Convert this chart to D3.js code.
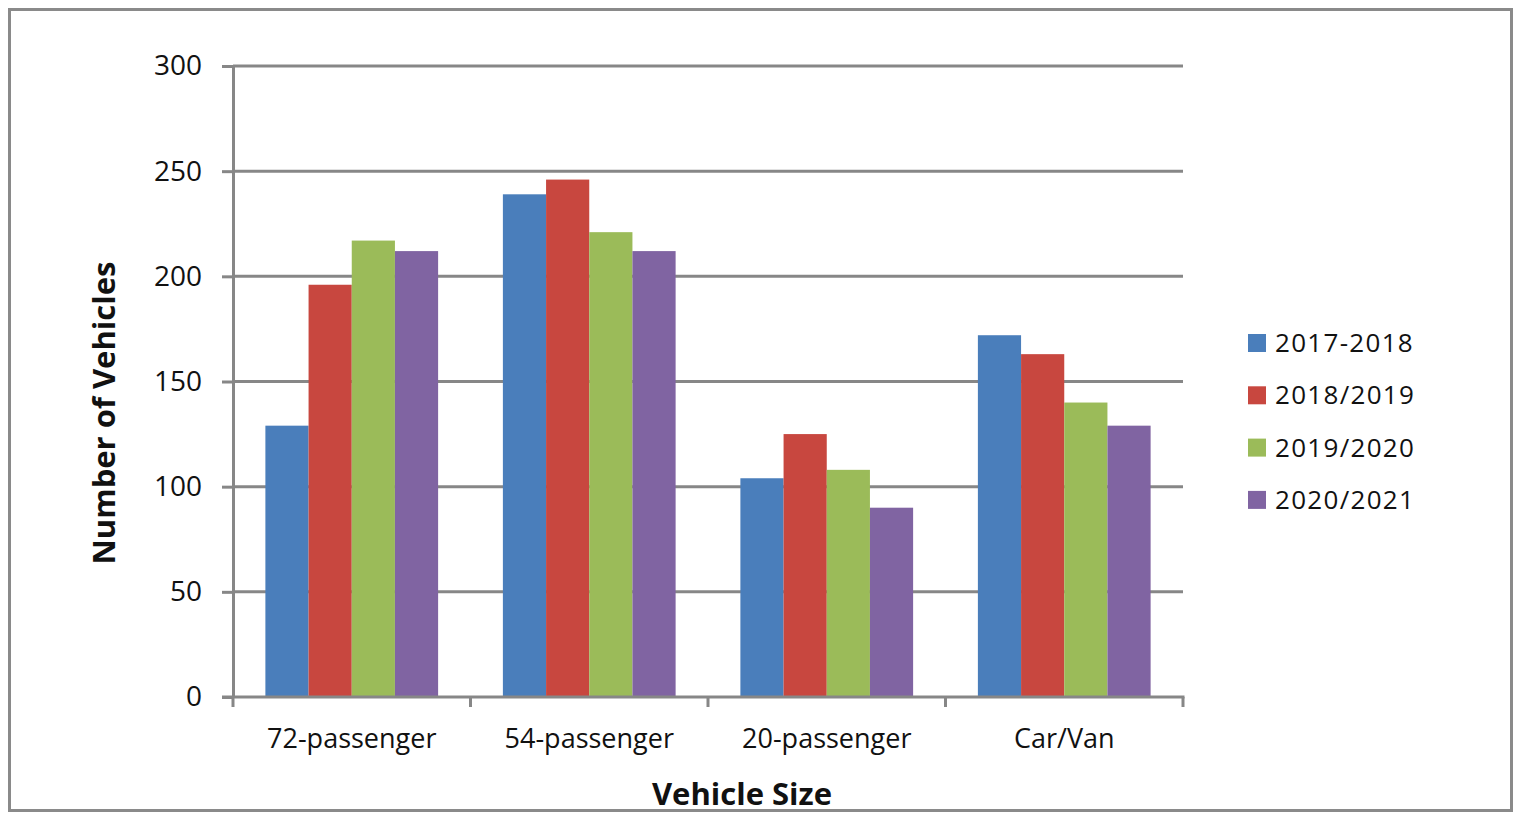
<!DOCTYPE html>
<html>
<head>
<meta charset="utf-8">
<script src="https://cdn.jsdelivr.net/npm/d3@7"></script>
<style>
  html, body { margin: 0; padding: 0; background: #fff; }
  svg { display: block; }
  text { font-family: "Open Sans", sans-serif; fill: #111; }
</style>
</head>
<body>
<svg id="chart" width="1519" height="817"></svg>
<script>
const categories = ["72-passenger", "54-passenger", "20-passenger", "Car/Van"];
const seriesNames = ["2017-2018", "2018/2019", "2019/2020", "2020/2021"];
const s2017_2018 = [129, 239, 104, 172];
const s2018_2019 = [196, 246, 125, 163];
const s2019_2020 = [217, 221, 108, 140];
const s2020_2021 = [212, 212, 90, 129];
const seriesValues = [s2017_2018, s2018_2019, s2019_2020, s2020_2021];
const colors = ["#4A7EBB", "#C8473F", "#9BBB59", "#8064A2"];
const yTicks = [0, 50, 100, 150, 200, 250, 300];

const svg = d3.select("#chart");
const W = 1519, H = 817;
const plot = { left: 233, right: 1183, top: 66, bottom: 697 };
const gridColor = "#878787";

// outer frame
svg.append("rect").attr("x", 0).attr("y", 0).attr("width", W).attr("height", H).attr("fill", "#fff");
svg.append("rect").attr("x", 9.5).attr("y", 9.5).attr("width", 1502).attr("height", 801)
  .attr("fill", "none").attr("stroke", "#8a8a8a").attr("stroke-width", 3);

const y = d3.scaleLinear().domain([0, 300]).range([plot.bottom, plot.top]);
const x0 = d3.scaleBand().domain(categories).range([plot.left, plot.right]).paddingInner(0).paddingOuter(0);
const step = x0.bandwidth();
const barW = step / 5.5;
const x1 = d3.scaleBand().domain(seriesNames).range([barW * 0.75, step - barW * 0.75]).padding(0);

// gridlines
svg.append("g").selectAll("line").data(yTicks.filter(d => d > 0)).join("line")
  .attr("x1", plot.left).attr("x2", plot.right)
  .attr("y1", d => y(d)).attr("y2", d => y(d))
  .attr("stroke", gridColor).attr("stroke-width", 3);

// bars
const rows = categories.map((c, i) => ({ cat: c, vals: seriesNames.map((s, j) => ({ s, j, v: seriesValues[j][i] })) }));
const groups = svg.append("g").selectAll("g").data(rows).join("g")
  .attr("transform", d => `translate(${x0(d.cat)},0)`);
groups.selectAll("rect").data(d => d.vals).join("rect")
  .attr("x", d => x1(d.s)).attr("width", x1.bandwidth())
  .attr("y", d => y(d.v)).attr("height", d => y(0) - y(d.v))
  .attr("fill", d => colors[d.j]);

// y axis
const yAxis = svg.append("g").attr("transform", `translate(${plot.left},0)`)
  .call(d3.axisLeft(y).tickValues(yTicks).tickSize(11).tickSizeOuter(0).tickPadding(20));
yAxis.select(".domain").attr("stroke", gridColor).attr("stroke-width", 3);
yAxis.selectAll(".tick line").attr("stroke", gridColor).attr("stroke-width", 3);
yAxis.selectAll(".tick text").style("font-family", "'Open Sans', sans-serif").style("font-size", "28px").attr("fill", "#111");

// x axis
const xAxis = svg.append("g").attr("transform", `translate(0,${plot.bottom})`)
  .call(d3.axisBottom(x0).tickSize(0).tickPadding(32));
xAxis.select(".domain").remove();
xAxis.selectAll(".tick text").style("font-family", "'Open Sans', sans-serif").style("font-size", "27px").attr("fill", "#111");
svg.append("line").attr("x1", plot.left - 11).attr("x2", plot.right + 1.5)
  .attr("y1", plot.bottom).attr("y2", plot.bottom).attr("stroke", gridColor).attr("stroke-width", 3);
const boundaries = categories.map(c => x0(c)).concat([plot.right]);
svg.append("g").selectAll("line").data(boundaries).join("line")
  .attr("x1", d => d).attr("x2", d => d)
  .attr("y1", plot.bottom).attr("y2", plot.bottom + 10)
  .attr("stroke", gridColor).attr("stroke-width", 3);

// axis titles
svg.append("text").attr("x", 742).attr("y", 805).attr("text-anchor", "middle")
  .style("font-size", "31px").style("font-weight", "bold").text("Vehicle Size");
svg.append("text").attr("transform", "translate(115,413) rotate(-90)").attr("text-anchor", "middle")
  .style("font-size", "31px").style("font-weight", "bold").text("Number of Vehicles");

// legend
const legend = svg.append("g").selectAll("g").data(seriesNames).join("g")
  .attr("transform", (d, i) => `translate(1248,${343 + i * 52.3})`);
legend.append("rect").attr("x", 0).attr("y", -9).attr("width", 18).attr("height", 18)
  .attr("fill", (d, i) => colors[i]);
legend.append("text").attr("x", 27).attr("y", 9)
  .style("font-size", "26px").style("letter-spacing", "1.3px").text(d => d);
</script>
</body>
</html>
